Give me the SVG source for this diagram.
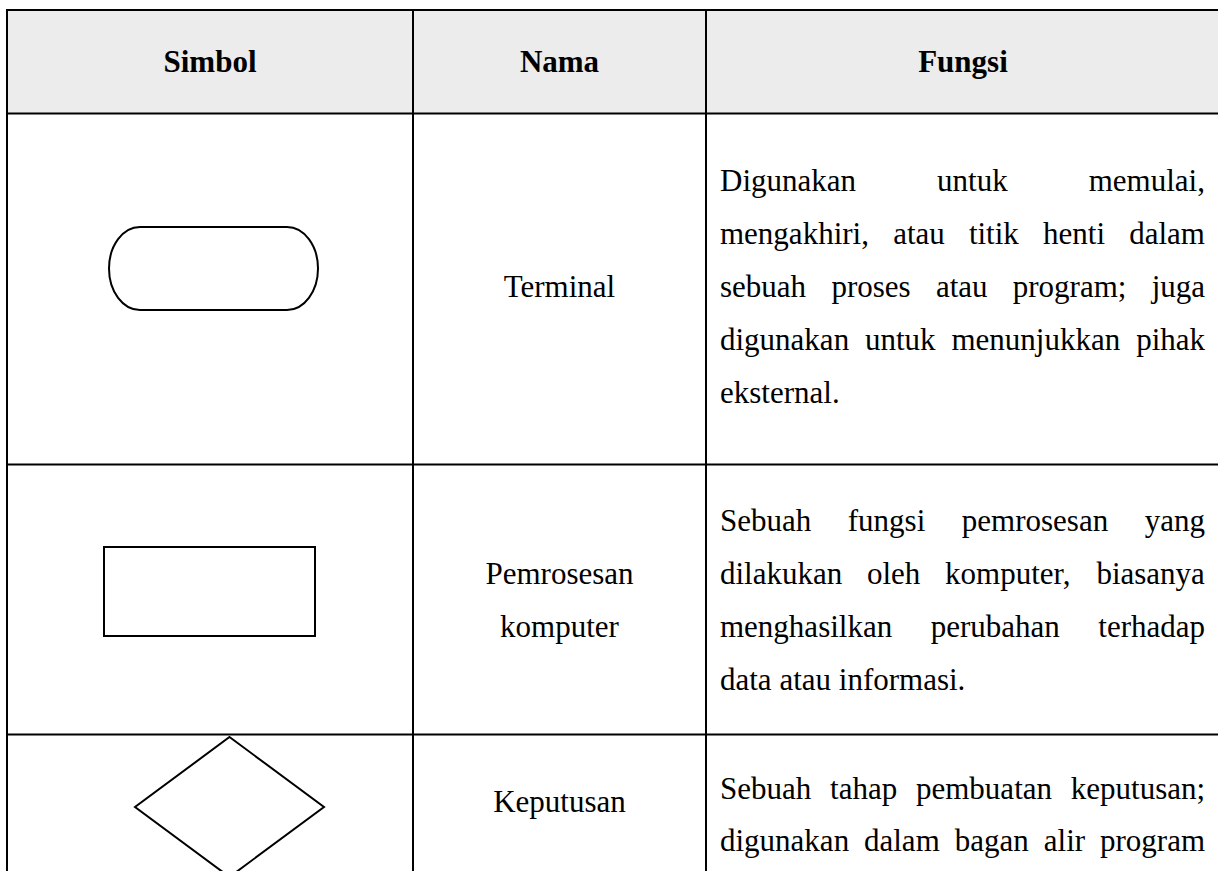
<svg xmlns="http://www.w3.org/2000/svg" width="1218" height="871" viewBox="0 0 1218 871">
<style>
.grid{stroke:#000;stroke-width:2;fill:none}
.shape{stroke:#000;stroke-width:2;fill:#fff}
.hd{font-family:"Liberation Serif","Times New Roman",serif;font-size:31px;font-weight:bold;fill:#000;text-anchor:middle}
.nm{font-family:"Liberation Serif","Times New Roman",serif;font-size:31px;fill:#000;text-anchor:middle}
.fx{font-family:"Liberation Serif","Times New Roman",serif;font-size:31px;fill:#000}
</style>
<rect x="0" y="0" width="1218" height="871" fill="#fff"/>
<g id="table">
<rect x="7" y="10" width="1215" height="103.5" fill="#ececec"/>
<line class="grid" x1="6" y1="10" x2="1222" y2="10"/>
<line class="grid" x1="6" y1="113.5" x2="1222" y2="113.5"/>
<line class="grid" x1="6" y1="464.5" x2="1222" y2="464.5"/>
<line class="grid" x1="6" y1="734.5" x2="1222" y2="734.5"/>
<line class="grid" x1="7" y1="9" x2="7" y2="875"/>
<line class="grid" x1="413" y1="9" x2="413" y2="875"/>
<line class="grid" x1="706" y1="9" x2="706" y2="875"/>
</g>
<g id="header">
<text class="hd" x="210" y="72">Simbol</text>
<text class="hd" x="559.5" y="72">Nama</text>
<text class="hd" x="963" y="72">Fungsi</text>
</g>
<g id="row-terminal">
<rect class="shape" x="109" y="227" width="209" height="83" rx="31" ry="41.5"/>
<text class="nm" x="559.5" y="297">Terminal</text>
<text class="fx" y="191"><tspan x="720">Digunakan</tspan><tspan x="937.1">untuk</tspan><tspan x="1088.7">memulai,</tspan></text>
<text class="fx" y="244"><tspan x="720">mengakhiri,</tspan><tspan x="893.2">atau</tspan><tspan x="968.9">titik</tspan><tspan x="1043.1">henti</tspan><tspan x="1129.2">dalam</tspan></text>
<text class="fx" y="297"><tspan x="720">sebuah</tspan><tspan x="831.4">proses</tspan><tspan x="935.9">atau</tspan><tspan x="1012.8">program;</tspan><tspan x="1151.7">juga</tspan></text>
<text class="fx" y="350"><tspan x="720">digunakan</tspan><tspan x="865">untuk</tspan><tspan x="951.5">menunjukkan</tspan><tspan x="1136.2">pihak</tspan></text>
<text class="fx" x="720" y="403">eksternal.</text>
</g>
<g id="row-proses">
<rect class="shape" x="104" y="547" width="211" height="89"/>
<text class="nm" x="559.5" y="583.5">Pemrosesan</text>
<text class="nm" x="559.5" y="636.5">komputer</text>
<text class="fx" y="530.5"><tspan x="720">Sebuah</tspan><tspan x="847.8">fungsi</tspan><tspan x="961.8">pemrosesan</tspan><tspan x="1144.7">yang</tspan></text>
<text class="fx" y="583.5"><tspan x="720">dilakukan</tspan><tspan x="867">oleh</tspan><tspan x="945.1">komputer,</tspan><tspan x="1096.4">biasanya</tspan></text>
<text class="fx" y="636.5"><tspan x="720">menghasilkan</tspan><tspan x="930.7">perubahan</tspan><tspan x="1098.3">terhadap</tspan></text>
<text class="fx" x="720" y="689.5">data atau informasi.</text>
</g>
<g id="row-keputusan">
<polygon class="shape" points="229.5,737 324,807 229.5,877 135,807"/>
<text class="nm" x="559.5" y="812">Keputusan</text>
<text class="fx" y="799"><tspan x="720">Sebuah</tspan><tspan x="830.1">tahap</tspan><tspan x="916">pembuatan</tspan><tspan x="1070.8">keputusan;</tspan></text>
<text class="fx" y="851"><tspan x="720">digunakan</tspan><tspan x="864">dalam</tspan><tspan x="954.8">bagan</tspan><tspan x="1043.8">alir</tspan><tspan x="1100">program</tspan></text>
</g>
</svg>
